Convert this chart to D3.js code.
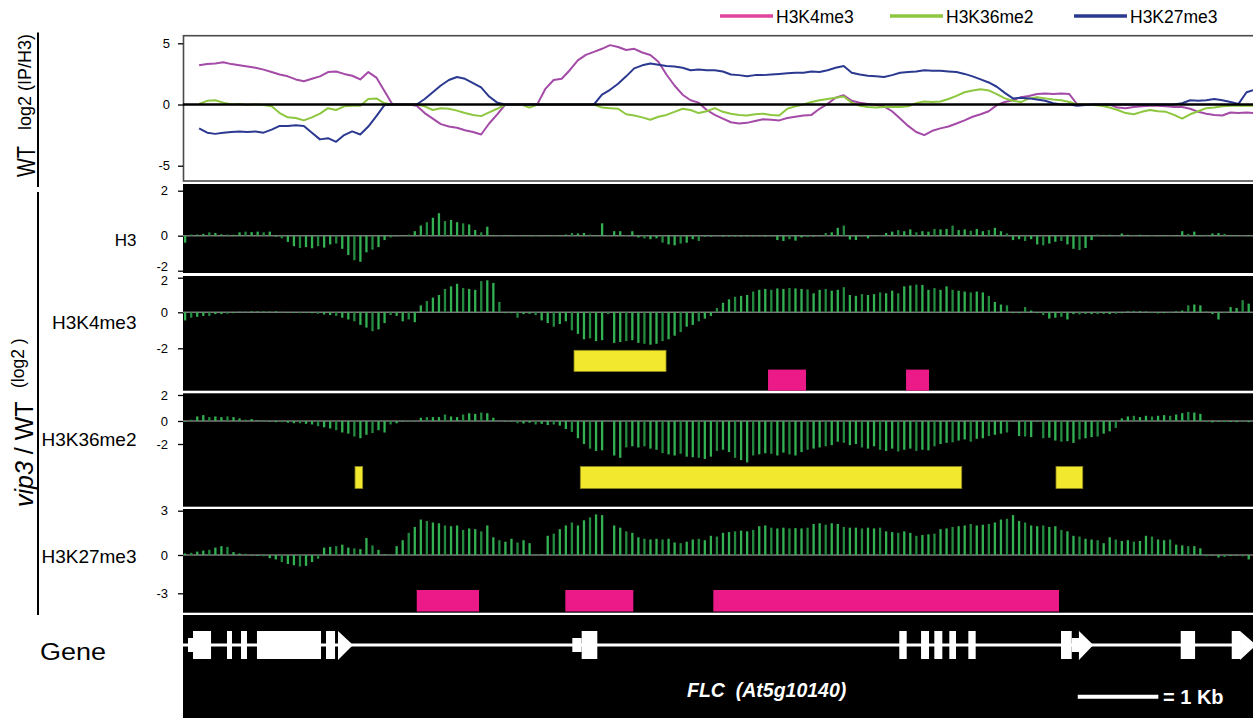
<!DOCTYPE html>
<html>
<head>
<meta charset="utf-8">
<script src="https://cdn.jsdelivr.net/npm/d3@7"></script>
<style>
  body { margin: 0; background: #fff; }
  svg text { font-family: "Liberation Sans", Arial, Helvetica, sans-serif; }
</style>
</head>
<body>
<svg id="chart" width="1253" height="718"></svg>
<script>
// ---------------------------------------------------------------------------
// Region shown (kb) and sampling steps
const regionKb = 13.28;
const profileStepKb = 0.1;   // WT enrichment profiles
const binStepKb = 0.075;     // vip3 / WT ratio bins

// WT log2 (IP/H3) profiles, one value per 0.1 kb (null = no probe)
const seriesNames = ["H3K4me3", "H3K36me2", "H3K27me3"];
const wtK4me3 = [
  null, null, 3.2, 3.3, 3.35, 3.45, 3.3, 3.2, 3.1, 3.0,
  2.85, 2.65, 2.45, 2.3, 2.05, 1.9, 2.1, 2.3, 2.65, 2.7,
  2.5, 2.35, 2.05, 2.65, 2.2, 1.1, 0, 0, 0, -0.1,
  -0.7, -1.15, -1.6, -1.8, -1.9, -2.1, -2.25, -2.45, -1.55, -0.8,
  0, 0, 0, 0, 0.05, 1.3, 2.0, 2.1, 2.8, 3.6,
  4.05, 4.3, 4.55, 4.85, 4.7, 4.45, 4.55, 4.25, 4.05, 3.5,
  2.45, 1.55, 0.8, 0.35, 0.15, -0.45, -0.85, -1.15, -1.45, -1.55,
  -1.5, -1.35, -1.2, -1.25, -1.3, -1.1, -1.0, -0.9, -0.85, -0.35,
  0.05, 0.55, 0.75, 0.3, 0.15, 0.05, -0.05, -0.15, -0.55, -1.15,
  -1.75, -2.25, -2.5, -2.15, -1.95, -1.8, -1.55, -1.3, -1.0, -0.8,
  -0.55, -0.05, 0.2, 0.35, 0.6, 0.7, 0.85, 0.9, 0.85, 0.9,
  0.85, 0, 0, 0, 0, 0, -0.25, -0.3, -0.2, -0.15,
  -0.1, -0.1, -0.15, -0.2, -0.2, -0.35, -0.6, -0.75, -0.85, -0.9,
  -0.65, -0.7, -0.65, -0.7
];
const wtK36me2 = [
  null, null, 0.05, 0.3, 0.35, 0.15, 0.0, 0.05, -0.05, 0.0,
  -0.05, -0.15, -0.7, -1.05, -1.1, -1.3, -1.05, -0.75, -0.3, -0.45,
  -0.15, -0.1, -0.1, 0.45, 0.5, 0.1, 0, 0, 0, 0,
  -0.15, -0.45, -0.3, -0.35, -0.5, -0.7, -0.85, -0.95, -0.65, -0.35,
  0, 0, 0, -0.25, 0, 0, 0, 0, 0, 0,
  0, 0, -0.25, -0.3, -0.35, -0.8, -0.9, -1.05, -1.25, -1.0,
  -0.85, -0.6, -0.35, -0.45, -0.7, -0.55, -0.3, -0.6, -0.75, -0.85,
  -0.9, -0.8, -0.75, -0.85, -0.9, -0.35, -0.15, 0.0, 0.2, 0.35,
  0.45, 0.55, 0.65, 0.15, -0.1, -0.2, -0.25, -0.2, -0.2, -0.2,
  -0.15, 0.1, 0.25, 0.2, 0.25, 0.45, 0.7, 1.0, 1.15, 1.25,
  1.15, 0.85, 0.5, 0.3, 0.2, 0.5, 0.6, 0.5, 0.4, 0.35,
  0.2, 0, 0, -0.05, -0.1, -0.25, -0.45, -0.7, -0.8, -0.6,
  -0.45, -0.55, -0.6, -0.85, -1.15, -0.8, -0.55, -0.3, -0.25, -0.15,
  -0.1, -0.1, -0.1, -0.1
];
const wtK27me3 = [
  null, null, -1.95, -2.3, -2.4, -2.3, -2.25, -2.2, -2.25, -2.2,
  -2.3, -2.05, -1.75, -1.75, -1.7, -1.75, -2.3, -2.85, -2.75, -3.05,
  -2.5, -2.2, -2.45, -1.8, -0.95, -0.05, 0, 0, 0, 0,
  0.45, 1.0, 1.55, 2.0, 2.25, 2.1, 1.75, 1.4, 0.65, 0.15,
  0, 0, 0, 0, 0, 0, 0, 0, 0, 0,
  0, 0, 0.8, 1.2, 1.7, 2.3, 2.95, 3.2, 3.35, 3.25,
  3.15, 3.1, 3.0, 2.8, 2.85, 2.8, 2.8, 2.7, 2.45, 2.4,
  2.3, 2.4, 2.4, 2.45, 2.5, 2.55, 2.6, 2.6, 2.7, 2.65,
  2.8, 3.0, 3.15, 2.6, 2.45, 2.35, 2.3, 2.25, 2.4, 2.6,
  2.65, 2.7, 2.8, 2.75, 2.75, 2.7, 2.65, 2.5, 2.3, 2.05,
  1.8, 1.45, 0.95, 0.5, 0.55, 0.5, 0.4, 0.3, 0.1, 0.0,
  0.0, -0.1, -0.05, 0, 0, 0, 0, 0, 0, 0,
  0, 0, 0, 0, 0.1, 0.35, 0.3, 0.35, 0.45, 0.35,
  0.2, 0.05, 1.0, 1.2
];
const wtTicks = [5, 0, -5];

// vip3 / WT log2 ratios, one value per 0.075 kb bin
const trackNames = ["H3", "H3K4me3", "H3K36me2", "H3K27me3"];
const ratioH3 = [
  -0.4, 0.05, 0.05, 0.08, 0.15, 0.12, 0.06, 0.05, 0.04, 0.15,
  0.18, 0.16, 0.18, 0.15, 0.18, -0.05, -0.15, -0.35, -0.6, -0.7,
  -0.65, -0.72, -0.6, -0.68, -0.5, -0.45, -0.75, -1.1, -1.4, -1.49,
  -0.95, -0.8, -0.65, -0.25, -0.1, -0.03, 0.02, 0.05, 0.2, 0.45,
  0.6, 0.8, 1.0, 0.65, 0.7, 0.6, 0.55, 0.5, 0.25, 0.15,
  0.4, 0.03, 0.02, 0.02, 0.03, 0.02, 0.03, 0.02, 0.03, 0.02,
  0.03, 0.02, 0.03, 0.05, 0.12, 0.1, 0.12, 0.05, 0.03, 0.55,
  0.03, 0.2, 0.2, 0.03, 0.2, -0.1, -0.15, -0.2, -0.15, -0.4,
  -0.5, -0.55, -0.45, -0.4, -0.2, -0.3, -0.05, -0.05, -0.03, -0.05,
  -0.04, -0.06, -0.05, -0.04, -0.05, -0.03, -0.05, -0.05, -0.25, -0.3,
  -0.2, -0.28, -0.1, -0.08, -0.05, -0.03, 0.12, 0.15, 0.35, 0.45,
  -0.22, -0.25, -0.05, -0.15, 0.02, 0.03, 0.12, 0.18, 0.25, 0.2,
  0.28, 0.15, 0.2, 0.18, 0.3, 0.28, 0.3, 0.45, 0.25, 0.28,
  0.22, 0.3, 0.2, 0.25, 0.35, 0.2, 0.1, -0.25, -0.2, -0.3,
  -0.2, -0.5, -0.55, -0.45, -0.35, -0.3, -0.5, -0.75, -0.82, -0.7,
  -0.25, 0.05, 0.03, 0.04, 0.02, 0.1, 0.04, 0.03, 0.04, 0.02,
  0.03, 0.02, 0.03, 0.02, 0.03, 0.2, 0.08, 0.18, 0.03, 0.04,
  0.1, 0.12, 0.08, 0.03, 0.03, 0.02, 0.03
];
const ratioK4me3 = [
  -0.45, -0.3, -0.25, -0.2, -0.2, -0.1, -0.1, -0.08, -0.05, 0.03,
  0.04, 0.05, 0.05, 0.06, 0.04, 0.05, 0.03, -0.03, -0.04, -0.05,
  -0.04, -0.05, -0.08, -0.12, -0.15, -0.2, -0.3, -0.4, -0.5, -0.7,
  -0.85, -1.05, -0.95, -0.6, -0.15, -0.2, -0.5, -0.4, -0.55, 0.4,
  0.65, 0.85, 1.0, 1.35, 1.5, 1.65, 1.4, 1.35, 1.3, 1.8,
  1.85, 1.7, 0.6, -0.05, -0.05, -0.3, -0.1, -0.08, -0.15, -0.45,
  -0.6, -0.8, -0.65, -0.5, -1.0, -1.2, -1.5, -1.45, -1.6, -1.55,
  -0.1, -1.7, -1.65, -1.6, -1.55, -1.7, -1.75, -1.8, -1.75, -1.6,
  -1.5, -1.3, -1.1, -0.8, -0.7, -0.5, -0.35, -0.2, 0.25, 0.55,
  0.75, 0.9, 0.95, 1.0, 1.2, 1.3, 1.35, 1.3, 1.38, 1.35,
  1.4, 1.38, 1.35, 1.32, 1.1, 1.3, 1.35, 1.25, 1.3, 1.45,
  1.0, 0.95, 1.05, 1.0, 1.05, 1.15, 1.1, 1.25, 1.1, 1.5,
  1.55, 1.6, 1.58, 1.3, 1.4, 1.3, 1.5, 1.3, 1.25, 1.2,
  1.15, 1.2, 1.15, 0.95, 0.6, 0.45, 0.4, -0.05, -0.05, 0.3,
  0.1, -0.05, -0.15, -0.35, -0.3, -0.25, -0.4, -0.1, -0.12, -0.08,
  -0.1, -0.1, -0.08, -0.1, -0.08, -0.05, 0.05, 0.08, 0.06, 0.04,
  -0.05, -0.06, -0.05, -0.04, 0.05, 0.1, 0.4, 0.45, 0.4, 0.05,
  -0.1, -0.4, -0.05, 0.3, 0.25, 0.7, 0.5
];
const ratioK36me2 = [
  -0.05, 0.1, 0.35, 0.45, 0.3, 0.35, 0.3, 0.35, 0.3, 0.2,
  0.1, 0.15, 0.05, 0.05, -0.05, -0.1, -0.1, -0.15, -0.2, -0.2,
  -0.25, -0.3, -0.45, -0.55, -0.65, -0.8, -1.0, -1.1, -1.35, -1.5,
  -1.2, -1.05, -0.8, -1.0, -0.3, -0.2, -0.05, -0.05, -0.03, 0.25,
  0.3, 0.3, 0.3, 0.5, 0.35, 0.3, 0.5, 0.6, 0.55, 0.65,
  0.6, 0.25, 0.03, -0.05, -0.05, -0.2, -0.22, -0.15, -0.3, -0.25,
  -0.35, -0.3, -0.4, -0.7, -0.95, -1.5, -2.0, -2.4, -2.6, -2.55,
  -0.05, -3.0, -3.2, -2.3, -2.2, -2.3, -2.2, -2.4, -2.5, -2.8,
  -2.9, -3.0, -2.85, -3.1, -3.15, -3.2, -3.3, -3.1, -2.6, -2.5,
  -2.7, -3.2, -3.4, -3.6, -3.0, -2.9, -2.8, -2.85, -3.0, -2.75,
  -2.9, -3.0, -2.7, -2.5, -2.4, -2.3, -2.2, -2.1, -1.8, -1.9,
  -2.1, -2.0, -2.3, -2.4, -2.2, -2.5, -2.6, -2.4, -2.65, -2.5,
  -2.4, -2.6, -2.5, -2.55, -2.2, -2.0, -1.9, -1.85, -1.7, -1.6,
  -1.8, -1.55, -1.5, -1.3, -1.2, -1.1, -1.0, -0.05, -1.3, -1.35,
  -1.4, -0.05, -1.5, -1.45, -1.7, -1.8, -1.75, -1.9, -1.6, -1.5,
  -1.4, -1.35, -1.1, -0.9, -0.6, 0.2, 0.35, 0.4, 0.3, 0.4,
  0.35, 0.4, 0.45, 0.4, 0.5, 0.6, 0.7, 0.65, 0.55, -0.1,
  -0.12, -0.08, -0.1, -0.08, -0.1, -0.08, -0.1
];
const ratioK27me3 = [
  0.1, 0.15, 0.23, 0.3, 0.35, 0.5, 0.6, 0.55, 0.2, 0.1,
  0.08, -0.05, -0.08, -0.1, -0.25, -0.35, -0.55, -0.7, -0.8, -0.9,
  -0.85, -0.55, -0.3, 0.5, 0.55, 0.6, 0.7, 0.5, 0.45, 0.4,
  1.15, 0.65, 0.35, 0.05, 0.05, 0.6, 1.0, 1.5, 1.9, 2.4,
  2.3, 2.2, 2.15, 2.0, 1.95, 2.0, 1.7, 1.8, 1.75, 1.6,
  2.0, 1.2, 1.0, 0.9, 1.1, 0.85, 1.0, 0.8, 0.05, 0.05,
  1.3, 1.45, 1.75, 2.0, 2.2, 2.0, 2.35, 2.55, 2.75, 2.7,
  0.05, 2.0, 1.85, 1.6, 1.5, 1.2, 1.1, 1.05, 1.1, 1.05,
  1.1, 0.85, 0.8, 0.9, 1.05, 1.1, 1.0, 1.3, 1.25, 1.5,
  1.55, 1.6, 1.65, 1.6, 1.7, 1.95, 2.0, 1.85, 1.8, 1.85,
  1.8, 1.82, 1.8, 1.85, 2.1, 2.15, 2.05, 2.15, 2.1, 1.9,
  1.85, 1.85, 1.8, 1.85, 1.8, 1.85, 1.6, 1.55, 1.5, 1.6,
  1.5, 1.3, 1.35, 1.4, 1.45, 1.75, 1.8, 1.9, 1.95, 2.0,
  2.1, 2.0, 2.05, 2.1, 2.2, 2.4, 2.45, 2.7, 2.3, 2.2,
  2.0, 1.95, 2.0, 1.9, 1.95, 1.7, 1.6, 1.3, 1.25, 1.1,
  1.05, 1.0, 0.8, 1.2, 1.05, 0.95, 1.0, 0.9, 0.95, 1.3,
  1.25, 1.05, 1.0, 1.05, 0.7, 0.65, 0.6, 0.6, 0.45, -0.1,
  -0.05, -0.2, -0.15, -0.08, -0.05, -0.1, -0.35
];
const ratioTicksH3 = [2, 0, -2];
const ratioTicksK4 = [2, 0, -2];
const ratioTicksK36 = [2, 0, -2];
const ratioTicksK27 = [3, 0, -3];

// Significantly changed regions [startKb, endKb]
const k4Reduced = [[4.853, 5.995]];
const k4Increased = [[7.261, 7.732], [8.974, 9.259]];
const k36Reduced = [[2.135, 2.230], [4.931, 9.665], [10.835, 11.167]];
const k27Increased = [[2.901, 3.674], [4.745, 5.589], [6.582, 10.872]];

// Gene model: exons [startKb, endKb, kind] and strand arrows [startKb, tipKb]
const exons = [
  [0.062, 0.124, "utr"], [0.124, 0.348, "cds"], [0.546, 0.608, "cds"],
  [0.720, 0.794, "cds"], [0.918, 1.713, "cds"], [1.775, 1.887, "cds"],
  [4.832, 4.948, "utr"], [4.948, 5.142, "cds"],
  [8.890, 8.982, "cds"], [9.160, 9.259, "cds"], [9.325, 9.424, "cds"],
  [9.511, 9.594, "cds"], [9.747, 9.838, "cds"],
  [10.897, 11.030, "cds"], [11.030, 11.133, "utr"],
  [12.383, 12.561, "cds"], [13.016, 13.119, "cds"]
];
const strandArrows = [[1.924, 2.110], [11.120, 11.298], [13.119, 13.32]];
const scaleBarKb = 1;

// ---------------------------------------------------------------------------
const svg = d3.select("#chart");
const font = '"Liberation Sans", Arial, Helvetica, sans-serif';
const x = d3.scaleLinear().domain([0, regionKb]).range([183, 1253]);
const plotRight = 1253;

// ---------------- WT panel ----------------
const wt = { top: 35.7, bottom: 181 };
const yWT = d3.scaleLinear().domain([-5, 5]).range([165.7, 43.3]);

svg.append("defs").append("clipPath").attr("id", "wtClip")
  .append("rect").attr("x", 183).attr("y", wt.top)
  .attr("width", plotRight - 183).attr("height", wt.bottom - wt.top);

svg.append("rect")
  .attr("x", 183.5).attr("y", wt.top)
  .attr("width", plotRight + 10 - 183.5).attr("height", wt.bottom - wt.top)
  .attr("fill", "#fff").attr("stroke", "#4a4a4a").attr("stroke-width", 1.6);

const lineColors = ["#a44aa7", "#8dc63f", "#2b3990"];
const legendColors = ["#e2449d", "#8dc63f", "#2b3990"];
const profiles = [wtK4me3, wtK36me2, wtK27me3];

const profileLine = d3.line()
  .defined(d => d != null)
  .x((d, i) => x(i * profileStepKb))
  .y(d => yWT(d));

const wtG = svg.append("g").attr("clip-path", "url(#wtClip)");
profiles.forEach((vals, k) => {
  wtG.append("path")
    .datum(vals)
    .attr("d", profileLine)
    .attr("fill", "none")
    .attr("stroke", lineColors[k])
    .attr("stroke-width", 2)
    .attr("stroke-linejoin", "round");
});
wtG.append("line")
  .attr("x1", 183).attr("x2", plotRight)
  .attr("y1", yWT(0)).attr("y2", yWT(0))
  .attr("stroke", "#000").attr("stroke-width", 2.6);

const wtAxis = svg.append("g").attr("transform", "translate(183,0)")
  .call(d3.axisLeft(yWT).tickValues(wtTicks).tickSize(5).tickPadding(8)
    .tickFormat(d => String(d)));
wtAxis.select(".domain").remove();
wtAxis.selectAll("line").attr("stroke", "#000").attr("stroke-width", 1.3);
wtAxis.selectAll("text").attr("font-size", 13).attr("font-family", font).attr("fill", "#000");

// legend
const legendX = [720, 890, 1074];
seriesNames.forEach((name, k) => {
  const g = svg.append("g").attr("transform", `translate(${legendX[k]},0)`);
  g.append("line").attr("x1", 0).attr("x2", 53).attr("y1", 16).attr("y2", 16)
    .attr("stroke", legendColors[k]).attr("stroke-width", 3.5);
  g.append("text").attr("x", 56).attr("y", 23)
    .attr("font-size", 17.5).attr("fill", "#000").text(name);
});

// ---------------- vip3 / WT ratio tracks ----------------
// labelShift nudges the outermost tick labels so that neighbouring tracks' labels stay apart
const tracks = [
  { name: trackNames[0], values: ratioH3, top: 184, bottom: 273, ticks: ratioTicksH3,
    yDomain: [-2, 0, 2], yRange: [270.7, 235.7, 190.7], labelY: 245.7, labelSize: 17,
    labelShift: { "-2": -4.5 } },
  { name: trackNames[1], values: ratioK4me3, top: 276, bottom: 390.7, ticks: ratioTicksK4,
    yDomain: [-2, 0, 2], yRange: [348.3, 312.3, 277.7], labelY: 328.5, labelSize: 19,
    labelShift: { "2": 2.5 } },
  { name: trackNames[2], values: ratioK36me2, top: 393.3, bottom: 506.7, ticks: ratioTicksK36,
    yDomain: [-2, 0, 2], yRange: [444, 421, 395], labelY: 445.5, labelSize: 19,
    labelShift: {} },
  { name: trackNames[3], values: ratioK27me3, top: 509, bottom: 612.7, ticks: ratioTicksK27,
    yDomain: [-3, 0, 3], yRange: [593.3, 555, 510.7], labelY: 562.7, labelSize: 19,
    labelShift: {} }
];

const barW = 2.3;
tracks.forEach(t => {
  const y = d3.scaleLinear().domain(t.yDomain).range(t.yRange);
  svg.append("rect").attr("x", 183).attr("y", t.top)
    .attr("width", plotRight - 183).attr("height", t.bottom - t.top).attr("fill", "#000");

  svg.append("line").attr("x1", 183).attr("x2", plotRight)
    .attr("y1", y(0)).attr("y2", y(0))
    .attr("stroke", "#7a7a7a").attr("stroke-width", 1.6);

  svg.append("g").selectAll("rect").data(t.values).join("rect")
    .attr("x", (d, i) => x(i * binStepKb) + 1)
    .attr("width", barW)
    .attr("y", d => Math.min(y(d), y(0)))
    .attr("height", d => Math.abs(y(d) - y(0)))
    .attr("fill", (d, i) => i % 3 === 1 ? "#238a3f" : "#33b152");

  const ax = svg.append("g").attr("transform", "translate(183,0)")
    .call(d3.axisLeft(y).tickValues(t.ticks).tickSize(5).tickPadding(10)
      .tickFormat(d => String(d)));
  ax.select(".domain").remove();
  ax.selectAll("line").attr("stroke", "#000").attr("stroke-width", 1.3);
  ax.selectAll("text").attr("font-size", 13).attr("font-family", font).attr("fill", "#000")
    .attr("y", d => t.labelShift[String(d)] || 0);

  svg.append("text").attr("x", 136.5).attr("y", t.labelY)
    .attr("text-anchor", "end").attr("font-size", t.labelSize).attr("fill", "#000")
    .text(t.name);
});

// changed-region blocks
function blocks(list, y0, y1, fill, edge) {
  svg.append("g").selectAll("rect").data(list).join("rect")
    .attr("x", d => x(d[0])).attr("width", d => x(d[1]) - x(d[0]))
    .attr("y", y0).attr("height", y1 - y0)
    .attr("fill", fill).attr("stroke", edge).attr("stroke-width", 0.8);
}
const yellow = "#f2e92e", yellowEdge = "#8d861c";
const pink = "#ec1a89";
blocks(k4Reduced, 350.3, 371.5, yellow, yellowEdge);
blocks(k4Increased, 369.6, 390.7, pink, "none");
blocks(k36Reduced, 466.5, 488.5, yellow, yellowEdge);
blocks(k27Increased, 590, 611.5, pink, "none");

// ---------------- gene model ----------------
const geneY = 645;
svg.append("rect").attr("x", 183).attr("y", 615)
  .attr("width", plotRight - 183).attr("height", 718 - 615).attr("fill", "#000");
svg.append("line").attr("x1", 183).attr("x2", plotRight)
  .attr("y1", geneY).attr("y2", geneY)
  .attr("stroke", "#fff").attr("stroke-width", 3);

svg.append("g").selectAll("rect").data(exons).join("rect")
  .attr("x", d => x(d[0])).attr("width", d => x(d[1]) - x(d[0]))
  .attr("y", d => d[2] === "utr" ? geneY - 7 : geneY - 14)
  .attr("height", d => d[2] === "utr" ? 14 : 28)
  .attr("fill", "#fff");

svg.append("g").selectAll("path").data(strandArrows).join("path")
  .attr("d", d => `M${x(d[0])},${geneY - 14}L${x(d[1])},${geneY}L${x(d[0])},${geneY + 15}Z`)
  .attr("fill", "#fff");

svg.append("text").attr("x", 687).attr("y", 696.5)
  .attr("font-size", 19.5).attr("font-weight", "bold").attr("font-style", "italic")
  .attr("fill", "#fff").style("white-space", "pre")
  .text("FLC  (At5g10140)");

const scaleStartKb = 11.105;
svg.append("line")
  .attr("x1", x(scaleStartKb)).attr("x2", x(scaleStartKb + scaleBarKb))
  .attr("y1", 696.7).attr("y2", 696.7)
  .attr("stroke", "#fff").attr("stroke-width", 4);
svg.append("text").attr("x", 1163).attr("y", 703.5)
  .attr("font-size", 20).attr("font-weight", "bold").attr("fill", "#fff")
  .text("= 1 Kb");

svg.append("text").attr("x", 40).attr("y", 659.5)
  .attr("font-size", 23).attr("fill", "#000")
  .attr("textLength", 66).attr("lengthAdjust", "spacingAndGlyphs")
  .text("Gene");

// ---------------- left-hand group labels ----------------
svg.append("line").attr("x1", 38).attr("x2", 38).attr("y1", 32.5).attr("y2", 187)
  .attr("stroke", "#000").attr("stroke-width", 2);
svg.append("line").attr("x1", 38).attr("x2", 38).attr("y1", 192).attr("y2", 615)
  .attr("stroke", "#000").attr("stroke-width", 2);

svg.append("text").attr("transform", "translate(35,177) rotate(-90)")
  .attr("font-size", 25).attr("fill", "#000")
  .attr("textLength", 31).attr("lengthAdjust", "spacingAndGlyphs")
  .text("WT");
svg.append("text").attr("transform", "translate(30.5,130) rotate(-90)")
  .attr("font-size", 18).attr("fill", "#000").style("white-space", "pre")
  .text("log2 (IP/H3)");

svg.append("text").attr("transform", "translate(24,388) rotate(-90)")
  .attr("font-size", 17.5).attr("fill", "#000").style("white-space", "pre")
  .text("(log2 )");

const vipLabel = svg.append("text").attr("transform", "translate(33,507) rotate(-90)")
  .attr("font-size", 25).attr("fill", "#000").style("white-space", "pre");
vipLabel.append("tspan").attr("font-style", "italic").text("vip3");
vipLabel.append("tspan").text(" / WT");
</script>
</body>
</html>
